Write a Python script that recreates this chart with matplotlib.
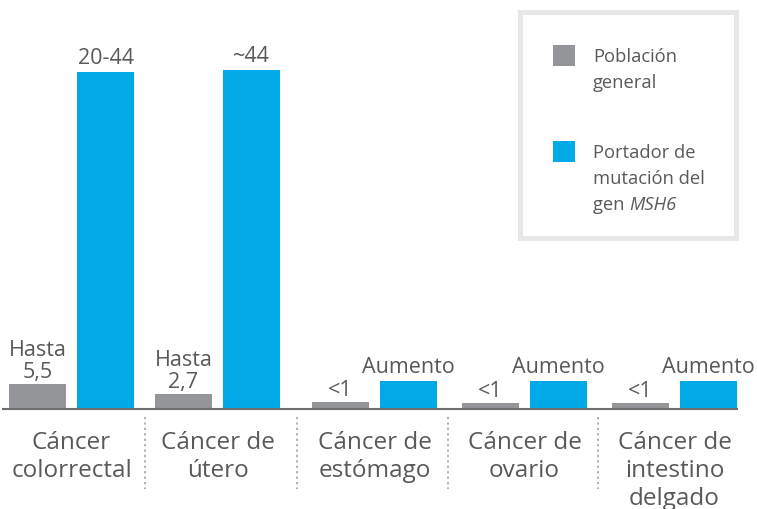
import matplotlib
matplotlib.use("Agg")
import matplotlib.pyplot as plt
from matplotlib.patches import Rectangle
from matplotlib.transforms import blended_transform_factory

categories = ["Cáncer\ncolorrectal", "Cáncer de\nútero", "Cáncer de\nestómago",
              "Cáncer de\novario", "Cáncer de\nintestino\ndelgado"]
general_vals = [3.3, 2.0, 0.9, 0.8, 0.8]
msh6_vals = [44.0, 44.3, 3.65, 3.65, 3.65]
general_labels = ["Hasta\n5,5", "Hasta\n2,7", "<1", "<1", "<1"]
msh6_labels = ["20-44", "~44", "Aumento", "Aumento", "Aumento"]
series_names = ["Población\ngeneral", "Portador de\nmutación del\ngen "]
gene_name = "MSH6"

# layout (pixel-based x positions of group centres and dividers)
GROUP_X = [71.5, 217.5, 374.5, 524.5, 674.5]
DIVIDER_X = [145, 297, 447.5, 598]
BAR_W = 57
BAR_OFF = 34

GRAY = "#939598"
BLUE = "#00aae6"
TEXT = "#58595b"
FONT = "Open Sans"
WEIGHT = "normal"

W, H = 757, 510
fig = plt.figure(figsize=(W / 100, H / 100), dpi=100)
plt.rcParams["font.family"] = [FONT, "DejaVu Sans"]

ax = fig.add_axes([3 / W, 100 / H, 734 / W, 400 / H])
ax.set_xlim(3, 737)
ax.set_ylim(0, 44 * 400 / 337)
for s in ["top", "left", "right"]:
    ax.spines[s].set_visible(False)
ax.spines["bottom"].set_color("#6d6e71")
ax.spines["bottom"].set_linewidth(1.5)
ax.set_xticks([])
ax.set_yticks([])
ax.patch.set_alpha(0)

ax.bar([x - BAR_OFF for x in GROUP_X], general_vals, width=BAR_W, color=GRAY, zorder=1)
ax.bar([x + BAR_OFF for x in GROUP_X], msh6_vals, width=BAR_W, color=BLUE, zorder=1)

def stacked_label(x, y, text, size, gap, spacing):
    lines = text.split("\n")[::-1]
    for i, ln in enumerate(lines):
        ax.annotate(ln, xy=(x, y), xytext=(0, gap + i * spacing), textcoords="offset pixels",
                    ha="center", va="baseline", fontsize=size, color=TEXT, fontweight=WEIGHT)

for x, v, lab in zip(GROUP_X, general_vals, general_labels):
    stacked_label(x - BAR_OFF, v, lab, 15.5, 7, 22)
for x, v, lab in zip(GROUP_X, msh6_vals, msh6_labels):
    stacked_label(x + BAR_OFF, v, lab, 15.5, 9, 22)

tr = blended_transform_factory(ax.transData, fig.transFigure)
for x, cat in zip(GROUP_X, categories):
    for i, ln in enumerate(cat.split("\n")):
        ypx = 449 + 28 * i
        ax.text(x, 1 - ypx / H, ln, transform=tr, ha="center", va="baseline",
                fontsize=17.5, color=TEXT, clip_on=False, fontweight=WEIGHT)

for dx in DIVIDER_X:
    ax.plot([dx, dx], [1 - 418 / H, 1 - 490 / H], transform=tr,
            color="#a7a9ac", lw=1.3, linestyle=(0, (1.2, 1.8)), clip_on=False)

fig.patches.append(Rectangle((519.5 / W, 1 - 238.5 / H), 216 / W, 226 / H,
                             transform=fig.transFigure, facecolor="white",
                             edgecolor="#e6e7e8", linewidth=3.6))
sq = [(553, 46, GRAY), (553, 142, BLUE)]
for px, py, c in sq:
    fig.patches.append(Rectangle((px / W, 1 - (py + 21) / H), 22 / W, 21 / H,
                                 transform=fig.transFigure, facecolor=c, edgecolor="none"))

def legend_lines(text, base_px):
    objs = []
    for i, ln in enumerate(text.split("\n")):
        t = fig.text(593 / W, 1 - (base_px + 26 * i) / H, ln, ha="left", va="baseline",
                     fontsize=13.2, color=TEXT, fontweight=WEIGHT)
        objs.append(t)
    return objs

legend_lines(series_names[0], 62)
objs = legend_lines(series_names[1], 158)
fig.canvas.draw()
last = objs[-1]
bb = last.get_window_extent(renderer=fig.canvas.get_renderer())
fig.text(bb.x1 / W, 1 - (158 + 52) / H, gene_name, ha="left", va="baseline",
         fontsize=13.2, color=TEXT, style="italic", fontweight=WEIGHT)

fig.savefig("out.png", dpi=100)
